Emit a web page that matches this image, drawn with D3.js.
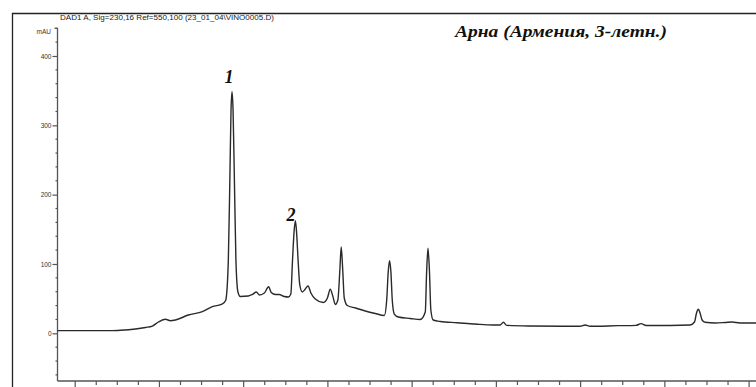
<!DOCTYPE html>
<html>
<head>
<meta charset="utf-8">
<script src="https://cdn.jsdelivr.net/npm/d3@7"></script>
<style>
  html, body { margin: 0; padding: 0; background: #fff; }
  svg { display: block; }
</style>
</head>
<body>
<svg id="chart" width="756" height="387"></svg>
<script>
// Chromatogram trace: retention time (min) and absorbance (mAU)
const times = [
  3.95, 7.21, 7.98, 8.58, 9.17, 9.58, 9.94, 10.36, 10.65, 10.95, 11.72, 12.55, 13.14, 13.74, 13.91,
  13.94, 14.09, 14.18, 14.25, 14.31, 14.37, 14.45, 14.54, 14.66, 14.80,
  15.28, 15.52, 15.75, 15.93, 16.23, 16.48, 16.64, 16.88, 17.11, 17.41, 17.65,
  17.80, 17.90, 17.99, 18.07, 18.14, 18.23, 18.33, 18.48,
  18.66, 18.82, 18.99, 19.25, 19.73, 19.97, 20.14, 20.29, 20.44, 20.59,
  20.71, 20.79, 20.88, 20.97, 21.15, 21.63, 22.22, 22.81, 23.35,
  23.49, 23.58, 23.66, 23.74, 23.82, 23.94, 24.18, 24.89, 25.48,
  25.78, 25.86, 25.94, 26.03, 26.11, 26.25, 26.67, 27.67, 28.74, 29.81,
  30.22, 30.42, 30.61, 32.00, 33.96, 34.97, 35.27, 35.56, 37.22, 38.29, 38.59, 38.89,
  40.31, 41.50, 41.76, 41.88, 41.99, 42.09, 42.21, 42.39, 42.98, 43.57, 43.99, 44.46, 45.41
];
const absorbance = [
  3.8, 3.8, 4.8, 6.2, 8.4, 10.5, 16.3, 20.2, 18.2, 19.2, 26.4, 31.2, 38.4, 42.3, 46.6,
  48, 105.8, 221, 322, 348.6, 322, 221, 105.8, 59.6, 53.1,
  53.8, 56, 59.6, 55.3, 58.2, 67.2, 58.9, 56, 56, 53.1, 52.4,
  56.7, 105.8, 146, 162.5, 146, 105.8, 69.7, 59.6,
  63.9, 68.3, 58.2, 49.5, 44.4, 50.9, 63.5, 53.8, 41.6, 48,
  91.3, 124.5, 91.3, 50.9, 40.1, 36.5, 32.2, 28.6, 25.7,
  48, 88.5, 104.8, 88.5, 48, 27.8, 23.5, 21.4, 19.9,
  30.7, 88.5, 122.6, 88.5, 33.6, 19.2, 17, 15.3, 13.4, 12,
  12, 15.9, 11.5, 10.5, 10.1, 10.1, 12, 10.1, 11, 11.5, 13.9, 11.3,
  11.3, 12, 16.3, 29.3, 34.6, 29.3, 19.2, 15.9, 14.9, 15.6, 16.3, 14.9, 14.9
];

// Numbered peaks
const peakLabels = ["1", "2"];
const peakTimes = [14.31, 18.07];
const peakValues = [348.6, 162.5];

// Axis ticks
const yMajorTicks = [0, 100, 200, 300, 400];
const yTickLabels = ["0", "100", "200", "300", "400"];
const xMajorTicks = [5, 10, 15, 20, 25, 30, 35, 40, 45];

const headerText = "DAD1 A, Sig=230,16 Ref=550,100 (23_01_04\\VINO0005.D)";
const titleText = "Арна (Армения, 3-летн.)";
const unitText = "mAU";

const svg = d3.select("#chart");

const x = d3.scaleLinear().domain([3.95, 45.41]).range([57.5, 756]);
const y = d3.scaleLinear().domain([0, 400]).range([333.3, 56]);

// Outer frame (left and top edges)
svg.append("path")
  .attr("d", "M12.5,387 V13.5 H756")
  .attr("fill", "none")
  .attr("stroke", "#222")
  .attr("stroke-width", 1.3);

// Header line
svg.append("text")
  .attr("x", 167).attr("y", 19.5)
  .attr("text-anchor", "middle")
  .attr("font-family", "Liberation Sans, Arial, sans-serif")
  .attr("font-size", 7)
  .attr("textLength", 214)
  .attr("lengthAdjust", "spacingAndGlyphs")
  .attr("fill", "#222")
  .text(headerText);

// Title
svg.append("text")
  .attr("x", 455).attr("y", 37)
  .attr("font-family", "Liberation Serif, Times New Roman, serif")
  .attr("font-weight", "bold")
  .attr("font-style", "italic")
  .attr("font-size", 16)
  .attr("textLength", 212)
  .attr("lengthAdjust", "spacingAndGlyphs")
  .attr("fill", "#111")
  .text(titleText);

// Y axis
const yMinor = d3.range(-60, 441, 20).filter(v => !yMajorTicks.includes(v));
const yAxisG = svg.append("g").attr("transform", "translate(57.5,0)");
yAxisG.append("line")
  .attr("y1", y(440)).attr("y2", 381)
  .attr("stroke", "#555").attr("stroke-width", 1.3);
yAxisG.append("line")
  .attr("x1", -3).attr("x2", 0)
  .attr("y1", y(440)).attr("y2", y(440))
  .attr("stroke", "#555").attr("stroke-width", 1.2);
yAxisG.selectAll(".minor").data(yMinor).join("line")
  .attr("class", "minor")
  .attr("x1", -2).attr("x2", 0)
  .attr("y1", d => y(d)).attr("y2", d => y(d))
  .attr("stroke", "#555").attr("stroke-width", 1.2);
const yAxis = d3.axisLeft(y)
  .tickValues(yMajorTicks)
  .tickFormat((d, i) => yTickLabels[i])
  .tickSize(5)
  .tickPadding(1);
const yg = svg.append("g").attr("transform", "translate(57.5,0)").call(yAxis);
yg.select(".domain").remove();
yg.selectAll(".tick line").attr("stroke", "#555").attr("stroke-width", 1.2);
yg.selectAll(".tick text")
  .attr("font-family", "Liberation Sans, Arial, sans-serif")
  .attr("font-size", 6.5)
  .attr("fill", "#333");

svg.append("text")
  .attr("x", 51).attr("y", 34)
  .attr("text-anchor", "end")
  .attr("font-family", "Liberation Sans, Arial, sans-serif")
  .attr("font-size", 6.5)
  .attr("fill", "#333")
  .text(unitText);

// X axis (labels fall below the visible area)
const xMinor = d3.range(5, 46, 1.25).filter(v => !xMajorTicks.includes(v));
const xg = svg.append("g").attr("transform", "translate(0,381)");
xg.append("line")
  .attr("x1", 57.5).attr("x2", 756)
  .attr("stroke", "#555").attr("stroke-width", 1.3);
xg.selectAll(".minor").data(xMinor).join("line")
  .attr("class", "minor")
  .attr("x1", d => x(d)).attr("x2", d => x(d))
  .attr("y1", 0).attr("y2", 4)
  .attr("stroke", "#555").attr("stroke-width", 1.2);
xg.selectAll(".major").data(xMajorTicks).join("line")
  .attr("class", "major")
  .attr("x1", d => x(d)).attr("x2", d => x(d))
  .attr("y1", 0).attr("y2", 7)
  .attr("stroke", "#555").attr("stroke-width", 1.2);

// Trace
const pts = times.map((t, i) => [t, absorbance[i]]);
const line = d3.line()
  .x(d => x(d[0]))
  .y(d => y(d[1]))
  .curve(d3.curveMonotoneX);
svg.append("path")
  .datum(pts)
  .attr("d", line)
  .attr("fill", "none")
  .attr("stroke", "#2a2a2a")
  .attr("stroke-width", 1.4)
  .attr("stroke-linejoin", "round");

// Peak numbers, placed just above-left of each apex
const labelDx = [-3, -4.5];
const labelDy = [-9, 0];
svg.selectAll(".peak-label").data(peakLabels).join("text")
  .attr("class", "peak-label")
  .attr("x", (d, i) => x(peakTimes[i]) + labelDx[i])
  .attr("y", (d, i) => y(peakValues[i]) + labelDy[i])
  .attr("text-anchor", "middle")
  .attr("font-family", "Liberation Serif, Times New Roman, serif")
  .attr("font-weight", "bold")
  .attr("font-style", "italic")
  .attr("font-size", 18)
  .attr("fill", "#111")
  .text(d => d);
</script>
</body>
</html>
